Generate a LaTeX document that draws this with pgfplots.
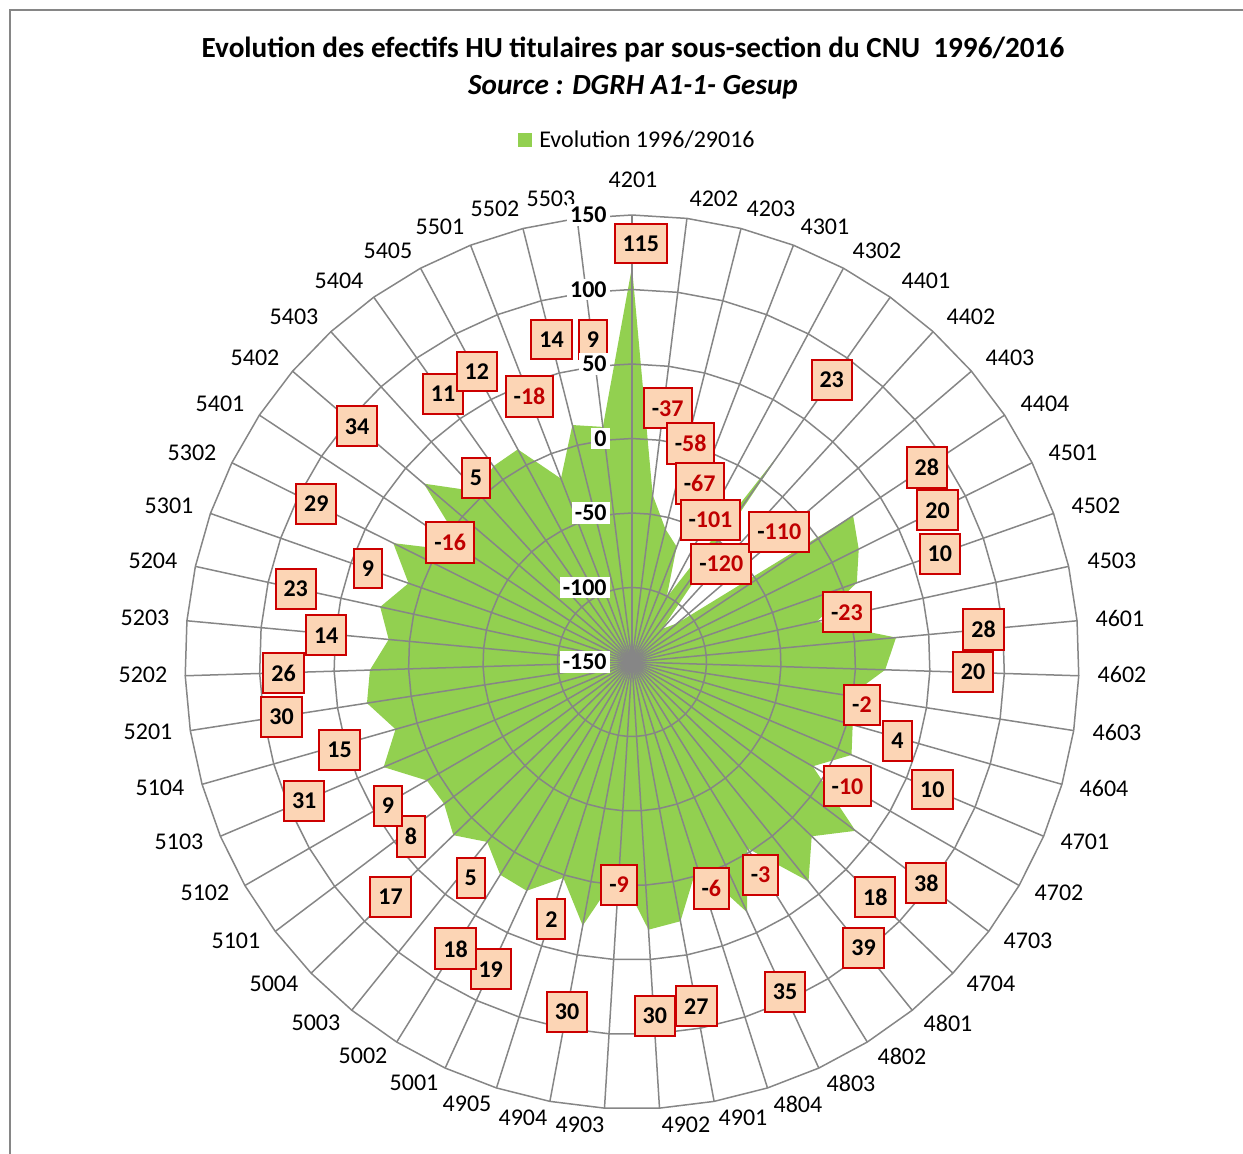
\documentclass[border=0pt]{standalone}
\usepackage{pgfplots}
\pgfplotsset{compat=1.18}
\usepackage{pgfplotstable}
\usepackage{fontspec}
\setmainfont{Carlito}
\definecolor{xgreen}{RGB}{146,208,80}
\definecolor{gridgray}{RGB}{134,134,134}
\definecolor{peach}{RGB}{252,213,181}
\definecolor{lblred}{RGB}{192,0,0}
\definecolor{boxred}{RGB}{204,0,0}

% category angle (deg, counter-clockwise from east) and value; first point repeated to close
\pgfplotstableread{
ang val
90 115
82.941 -37
75.882 -58
68.824 -67
61.765 -101
54.706 23
47.647 -120
40.588 -110
33.529 28
26.471 20
19.412 10
12.353 -23
5.294 28
358.235 20
351.176 -2
344.118 4
337.059 10
330 -10
322.941 38
315.882 18
308.824 39
301.765 -3
294.706 35
287.647 -6
280.588 27
273.529 30
266.471 -9
259.412 30
252.353 2
245.294 19
238.235 18
231.176 5
224.118 17
217.059 8
210 9
202.941 31
195.882 15
188.824 30
181.765 26
174.706 14
167.647 23
160.588 9
153.529 29
146.471 -16
139.412 34
132.353 5
125.294 11
118.235 12
111.176 -18
104.118 14
97.059 9
90 115
}\polydata

% category label positions (axis units)
\pgfplotstableread{
x y cat
0.7 323.5 4201
55.0 310.7 4202
93.3 304.0 4203
129.5 291.9 4301
164.4 275.8 4302
197.3 255.7 4401
227.5 231.5 4402
253.7 204.0 4403
277.2 173.2 4404
296.0 140.3 4501
311.4 104.7 4502
322.1 67.8 4503
327.5 29.5 4601
328.9 -8.7 4602
325.5 -47.0 4603
316.8 -84.6 4604
304.0 -120.8 4701
286.6 -155.0 4702
265.8 -187.2 4703
240.9 -216.1 4704
212.1 -242.3 4801
181.2 -264.4 4802
147.0 -282.6 4803
111.4 -296.6 4804
74.5 -306.0 4901
36.2 -310.7 4902
-34.9 -310.7 4903
-73.2 -306.0 4904
-110.7 -296.6 4905
-146.3 -282.6 5001
-180.5 -264.4 5002
-212.1 -242.3 5003
-240.3 -216.1 5004
-265.8 -187.2 5101
-286.6 -155.0 5102
-304.0 -120.8 5103
-316.8 -84.6 5104
-324.8 -47.0 5201
-328.2 -8.7 5202
-326.8 29.5 5203
-321.5 67.8 5204
-310.7 104.7 5301
-295.3 140.3 5302
-276.5 173.2 5401
-253.0 204.0 5402
-226.8 231.5 5403
-196.6 255.7 5404
-163.8 275.8 5405
-128.9 291.9 5501
-91.9 304.0 5502
-54.4 310.7 5503
}\catdata

% label positions (angle, radius on the 0..300 scale) for positive values
\pgfplotstableread{
ang r lab
88.8 281 115
54.7 232 23
33.4 237 28
26.4 229 20
19.4 219 10
5.3 237 28
358.3 229 20
343.4 186 4
337 219 10
323.1 247 38
316 227 18
309 247 39
294.9 244 35
280.6 235 27
273.7 238 30
259.5 239 30
252.6 181 2
245.3 227 19
238.4 226 18
233.3 181 5
224.2 226 17
218.3 189 8
210.5 190 9
203 239 31
196.8 205 15
188.9 238 30
181.8 234 26
175 206 14
167.7 231 23
160.5 188 9
153.4 237 29
139.4 243 34
130.3 162 5
125.2 220 11
118.1 221 12
104 223 14
96.9 218 9
}\posdata

% label positions for negative values (digits only)
\pgfplotstableread{
ang r lab
82 172 37
75 152 58
69.2 128 67
61.1 109 101
47.7 89 120
41.5 132 110
13 148 23
349.5 157 2
330 167 10
301.1 167 3
289.3 161 6
266.7 150 9
146.7 146 16
111.1 191 18
}\negdata

% radial axis labels
\pgfplotstableread{
ang r lab
90 0 -150
90 50 -100
90 100 -50
90 150 0
90 200 50
90 250 100
90 300 150
}\raddata

\tikzset{lblbox/.style={anchor=center, fill=peach, draw=boxred, line width=1pt,
    font=\bfseries\fontsize{12}{14}\selectfont, inner xsep=4pt, inner ysep=6pt,
    minimum height=19.5pt, text=black}}

\begin{document}
\begin{tikzpicture}
\useasboundingbox (-316pt,-245.5pt) rectangle (305.5pt,331pt);
\draw[gridgray, line width=0.75pt] (-311pt,-250pt) -- (-311pt,326pt) -- (310pt,326pt);
\node[font=\bfseries\fontsize{14.6}{17}\selectfont] at (0.5pt,306pt) {Evolution des efectifs HU titulaires par sous-section du CNU\ \ 1996/2016};
\node[font=\bfseries\itshape\fontsize{14.6}{17}\selectfont] at (0.5pt,287.5pt) {Source : DGRH A1-1- Gesup};
\node[font=\fontsize{12}{14}\selectfont, inner sep=0pt] (leg) at (7.5pt,261pt) {Evolution 1996/29016};
\fill[xgreen] ([xshift=-10.5pt]leg.west) ++(0,-3.5pt) rectangle ++(7pt,7pt);
\begin{axis}[
  at={(0pt,0pt)}, anchor=center,
  scale only axis, width=447pt, height=447pt,
  xmin=-300, xmax=300, ymin=-300, ymax=300,
  axis lines=none, ticks=none, clip=false,
]
% green area
\addplot[fill=xgreen, draw=none, mark=none, data cs=polar] table[x=ang, y expr=\thisrow{val}+150] {\polydata};

% rings (every 50 units)
\pgfplotsinvokeforeach{50,100,150,200,250,300}{
  \addplot[gridgray, line width=0.75pt, mark=none, data cs=polar] table[x=ang, y expr=#1] {\polydata};
}
% spokes
\pgfplotsinvokeforeach{90,82.941,75.882,68.824,61.765,54.706,47.647,40.588,33.529,26.471,19.412,12.353,5.294,358.235,351.176,344.118,337.059,330,322.941,315.882,308.824,301.765,294.706,287.647,280.588,273.529,266.471,259.412,252.353,245.294,238.235,231.176,224.118,217.059,210,202.941,195.882,188.824,181.765,174.706,167.647,160.588,153.529,146.471,139.412,132.353,125.294,118.235,111.176,104.118,97.059}{
  \addplot[gridgray, line width=0.75pt, mark=none, data cs=polar] coordinates {(#1,0) (#1,300)};
}

% category names
\addplot[draw=none, mark=none, point meta=explicit symbolic,
  nodes near coords, nodes near coords align={center},
  every node near coord/.append style={anchor=center, inner sep=0pt,
    font=\fontsize{12}{14}\selectfont, text=black}]
  table[x=x, y=y, meta=cat] {\catdata};

% data labels
\addplot[draw=none, mark=none, data cs=polar, point meta=explicit symbolic,
  nodes near coords, nodes near coords align={center},
  every node near coord/.append style={lblbox}]
  table[x=ang, y=r, meta=lab] {\posdata};

\addplot[draw=none, mark=none, data cs=polar, point meta=explicit symbolic,
  nodes near coords={-\textcolor{lblred}{\pgfplotspointmeta}}, nodes near coords align={center},
  every node near coord/.append style={lblbox}]
  table[x=ang, y=r, meta=lab] {\negdata};

% radial scale labels
\addplot[draw=none, mark=none, data cs=polar, point meta=explicit symbolic,
  nodes near coords, nodes near coords align={center},
  every node near coord/.append style={anchor=east, xshift=-11pt, fill=white, inner sep=1.5pt,
    font=\bfseries\fontsize{12}{14}\selectfont, text=black}]
  table[x=ang, y=r, meta=lab] {\raddata};
\end{axis}
\end{tikzpicture}
\end{document}
